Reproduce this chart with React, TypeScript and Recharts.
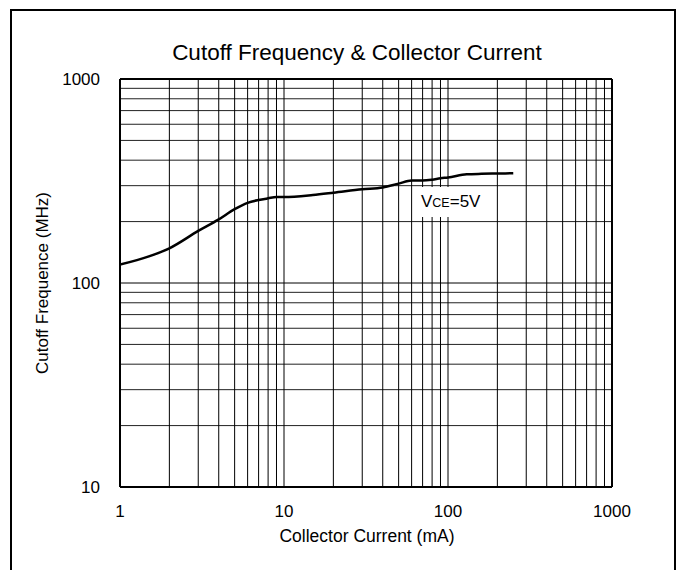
import React from 'react';
import { LineChart, Line, XAxis, YAxis, ReferenceLine } from 'recharts';

const currentMA = [1, 1.5, 2, 3, 4, 5, 6, 7, 8, 9, 10, 15, 20, 30, 40, 50, 60, 70, 80, 90, 100, 130, 160, 200, 250];
const cutoffMHz = [123, 135, 148, 180, 205, 230, 247, 255, 260, 264, 264, 270, 277, 288, 294, 307, 318, 318, 321, 326, 329, 341, 343, 344, 345];

const xTicks = [1, 10, 100, 1000];
const yTicks = [10, 100, 1000];
const xGrid = [2, 3, 4, 5, 6, 7, 8, 9, 20, 30, 40, 50, 60, 70, 80, 90, 200, 300, 400, 500, 600, 700, 800, 900];
const yGrid = [20, 30, 40, 50, 60, 70, 80, 90, 200, 300, 400, 500, 600, 700, 800, 900];

const FONT = '"Liberation Sans", Arial, sans-serif';

const App: React.FC = () => {
    const chartData = currentMA.map((c, i) => ({ current: c, ft: cutoffMHz[i] }));

    return (
        <div style={{ position: 'fixed', left: 0, top: 0, width: 682, height: 570, background: '#fff', overflow: 'hidden', fontFamily: FONT }}>
            {/* outer frame, open at the bottom */}
            <div style={{ position: 'absolute', left: 10, top: 9, width: 666, height: 600, border: '2px solid #000', boxSizing: 'border-box' }} />

            <LineChart
                width={682}
                height={570}
                data={chartData}
                margin={{ top: 79, right: 70, left: 60, bottom: 43 }}
                style={{ position: 'absolute', left: 0, top: 0, fontFamily: FONT }}
            >
                <XAxis
                    dataKey="current"
                    type="number"
                    scale="log"
                    domain={[1, 1000]}
                    ticks={xTicks}
                    allowDataOverflow
                    height={40}
                    axisLine={false}
                    tickLine={false}
                    tickSize={0}
                    tickMargin={18}
                    tick={{ fill: '#000', fontSize: 17, fontFamily: FONT }}
                />
                <YAxis
                    type="number"
                    scale="log"
                    domain={[10, 1000]}
                    ticks={yTicks}
                    allowDataOverflow
                    width={60}
                    axisLine={false}
                    tickLine={false}
                    tickSize={0}
                    tickMargin={20}
                    tick={{ fill: '#000', fontSize: 17, fontFamily: FONT }}
                />

                {yGrid.map(v => (
                    <ReferenceLine key={'h' + v} y={v} stroke="#222" strokeWidth={1} />
                ))}
                {xGrid.map(v => (
                    <ReferenceLine key={'v' + v} x={v} stroke="#000" strokeWidth={1} />
                ))}
                <ReferenceLine y={100} stroke="#000" strokeWidth={1} />
                <ReferenceLine x={10} stroke="#000" strokeWidth={1} />
                <ReferenceLine x={100} stroke="#000" strokeWidth={1} />
                {/* plot frame */}
                <ReferenceLine y={10} stroke="#000" strokeWidth={2} />
                <ReferenceLine y={1000} stroke="#000" strokeWidth={2} />
                <ReferenceLine x={1} stroke="#000" strokeWidth={2} />
                <ReferenceLine x={1000} stroke="#000" strokeWidth={2} />

                <Line
                    type="monotone"
                    dataKey="ft"
                    stroke="#000"
                    strokeWidth={2.5}
                    dot={false}
                    isAnimationActive={false}
                />
            </LineChart>

            {/* title */}
            <div style={{ position: 'absolute', left: 157, top: 40, width: 400, textAlign: 'center', fontSize: 22.5, lineHeight: '26px', color: '#000' }}>
                Cutoff Frequency &amp; Collector Current
            </div>

            {/* x axis label */}
            <div style={{ position: 'absolute', left: 167, top: 526, width: 400, textAlign: 'center', fontSize: 17.5, lineHeight: '20px', color: '#000' }}>
                Collector Current (mA)
            </div>

            {/* y axis label */}
            <div style={{ position: 'absolute', left: 43 - 150, top: 283 - 10, width: 300, textAlign: 'center', fontSize: 17, lineHeight: '20px', color: '#000', transform: 'rotate(-90deg)', transformOrigin: '150px 10px' }}>
                Cutoff Frequence (MHz)
            </div>

            {/* VCE annotation */}
            <div style={{ position: 'absolute', left: 414, top: 187, width: 76, height: 30, background: '#fff', color: '#000', fontSize: 17, lineHeight: '30px', paddingLeft: 7, boxSizing: 'border-box', whiteSpace: 'nowrap' }}>
                V<span style={{ fontSize: 12.5 }}>CE</span>=5V
            </div>
        </div>
    );
};

export default App;
